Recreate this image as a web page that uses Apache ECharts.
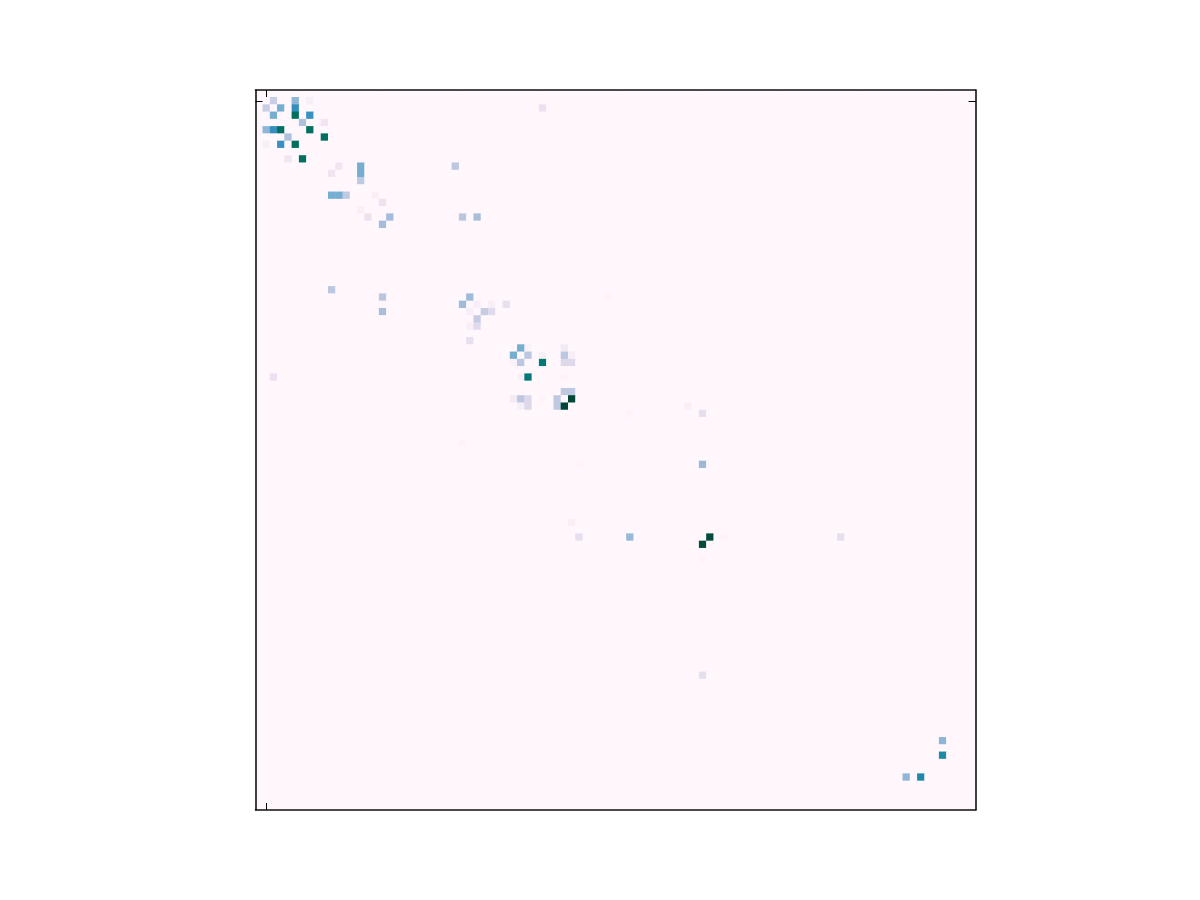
<!DOCTYPE html>
<html>
<head>
<meta charset="utf-8">
<script src="https://cdn.jsdelivr.net/npm/echarts@6/dist/echarts.min.js"></script>
<style>html,body{margin:0;padding:0;background:#fff;}#c{width:1200px;height:900px;}</style>
</head>
<body>
<div id="c"></div>
<script>
// Matrix size (square, symmetric)
const N = 99;
// Upper-triangle non-zero entries (row, column, value); mirrored for symmetry
const entryRows = [1, 1, 1, 2, 2, 2, 3, 3, 4, 4, 5, 6, 10, 10, 10, 11, 12, 14, 15, 17, 17, 17, 28, 28, 29, 29, 29, 30, 30, 35, 35, 35, 36, 36, 36, 36, 37, 37, 37, 39, 41, 41, 42, 43, 44, 44, 51, 61, 61, 61, 89, 91];
const entryCols = [2, 5, 7, 3, 5, 39, 5, 7, 6, 9, 7, 9, 11, 14, 27, 14, 14, 16, 17, 18, 28, 30, 29, 48, 30, 32, 34, 31, 32, 36, 37, 42, 37, 39, 42, 43, 39, 42, 43, 42, 42, 43, 43, 59, 51, 61, 61, 62, 64, 80, 94, 94];
const entryValues = [0.27, 0.42, 0.05, 0.47, 0.63, 0.13, 0.86, 0.62, 0.35, 0.10, 0.86, 0.86, 0.10, 0.47, 0.31, 0.47, 0.30, 0.04, 0.12, 0.38, 0.32, 0.37, 0.39, 0.02, 0.05, 0.04, 0.14, 0.28, 0.18, 0.47, 0.03, 0.08, 0.31, 0.04, 0.31, 0.05, 0.80, 0.19, 0.19, 0.02, 0.30, 0.30, 1.00, 0.04, 0.02, 0.15, 0.40, 0.98, 0.02, 0.15, 0.42, 0.68];
// Tick positions (no labels shown)
const tickIndices = [1];
// PuBuGn colormap
const cmap = ['#fff7fb', '#ece2f0', '#d0d1e6', '#a6bddb', '#67a9cf', '#3690c0', '#02818a', '#016c59', '#014636'];

const cats = [];
for (let i = 0; i < N; i++) cats.push(String(i));
const M = [];
for (let i = 0; i < N; i++) { M.push(new Array(N).fill(0)); }
for (let k = 0; k < entryRows.length; k++) {
  M[entryRows[k]][entryCols[k]] = entryValues[k];
  M[entryCols[k]][entryRows[k]] = entryValues[k];
}
const data = [];
for (let r = 0; r < N; r++) for (let c = 0; c < N; c++) data.push([c, r, M[r][c]]);

const tickFn = (idx) => tickIndices.indexOf(idx) >= 0;
function axis(pos, isX) {
  return {
    type: 'category', data: cats, position: pos,
    inverse: !isX,
    z: 10,
    axisLine: { show: true, lineStyle: { color: '#111', width: 1.6 } },
    axisLabel: { show: false },
    axisTick: { show: true, inside: true, alignWithLabel: true, interval: tickFn, length: 7, lineStyle: { color: '#000', width: 1 } },
    splitLine: { show: false }
  };
}

const chart = echarts.init(document.getElementById('c'), null, { renderer: 'canvas' });
chart.setOption({
  animation: false,
  backgroundColor: '#ffffff',
  grid: { left: 255.5, top: 90, width: 720, height: 720, show: true, backgroundColor: '#fff7fb', borderWidth: 0 },
  xAxis: [axis('bottom', true), axis('top', true)],
  yAxis: [axis('left', false), axis('right', false)],
  visualMap: { show: false, min: 0, max: 1, dimension: 2, inRange: { color: cmap } },
  series: [{
    type: 'heatmap', xAxisIndex: 0, yAxisIndex: 0, data: data, z: 1,
    itemStyle: { borderWidth: 0 },
    emphasis: { disabled: true },
    progressive: 0
  }]
});
</script>
</body>
</html>
